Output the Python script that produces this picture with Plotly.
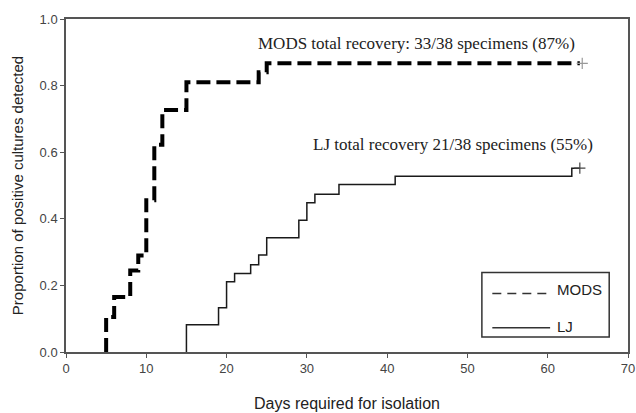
import plotly.graph_objects as go

# ---- data ----
mods_days = [5, 6, 8, 9, 10, 11, 12, 15, 24, 25]
mods_prop = [0.105, 0.165, 0.245, 0.29, 0.456, 0.622, 0.727, 0.81, 0.84, 0.867]
mods_end = 64

lj_days = [15, 19, 20, 21, 23, 24, 25, 29, 30, 31, 34, 41, 63]
lj_prop = [0.082, 0.133, 0.211, 0.236, 0.262, 0.291, 0.343, 0.396, 0.448, 0.474, 0.503, 0.528, 0.552]
lj_end = 64

x_ticks = [0, 10, 20, 30, 40, 50, 60, 70]
y_ticks = [0.0, 0.2, 0.4, 0.6, 0.8, 1.0]

mods_label = "MODS total recovery: 33/38 specimens (87%)"
lj_label = "LJ total recovery 21/38 specimens (55%)"


def km_xy(days, prop, end):
    x = [days[0]] + list(days) + [end]
    y = [0] + list(prop) + [prop[-1]]
    return x, y


fig = go.Figure()

mx, my = km_xy(mods_days, mods_prop, mods_end)
fig.add_trace(go.Scatter(x=mx, y=my, mode="lines", line_shape="hv",
                         line=dict(color="black", width=4, dash="14px,6px"),
                         showlegend=False, name="MODS", cliponaxis=False))
fig.add_trace(go.Scatter(x=[mods_end + 0.3], y=[mods_prop[-1]], mode="markers",
                         marker=dict(symbol="cross-thin", size=8,
                                     line=dict(color="#999999", width=1.2)),
                         showlegend=False, hoverinfo="skip"))

lx, ly = km_xy(lj_days, lj_prop, lj_end)
fig.add_trace(go.Scatter(x=lx, y=ly, mode="lines", line_shape="hv",
                         line=dict(color="#1a1a1a", width=1.5),
                         showlegend=False, name="LJ", cliponaxis=False))
fig.add_trace(go.Scatter(x=[lj_end], y=[lj_prop[-1]], mode="markers",
                         marker=dict(symbol="cross-thin", size=8,
                                     line=dict(color="#444444", width=1.2)),
                         showlegend=False, hoverinfo="skip"))

# legend drawn manually (box, samples, labels)
fig.add_shape(type="rect", xref="x", yref="y", x0=51.8, x1=67.66, y0=0.045, y1=0.239,
              line=dict(color="#333333", width=1.5), fillcolor="white", layer="above")
fig.add_shape(type="line", xref="x", yref="y", x0=53.1, x1=60.3, y0=0.176, y1=0.176,
              line=dict(color="#333333", width=1.5, dash="9px,6px"))
fig.add_shape(type="line", xref="x", yref="y", x0=53.1, x1=60.3, y0=0.073, y1=0.073,
              line=dict(color="#333333", width=1.5))
fig.add_annotation(x=60.9, y=0.187, xref="x", yref="y", text="MODS", showarrow=False,
                   xanchor="left", yanchor="middle",
                   font=dict(family="Liberation Sans, Arial", size=15, color="#222222"))
fig.add_annotation(x=60.9, y=0.078, xref="x", yref="y", text="LJ", showarrow=False,
                   xanchor="left", yanchor="middle",
                   font=dict(family="Liberation Sans, Arial", size=15, color="#222222"))

fig.add_annotation(x=43.66, y=0.927, xref="x", yref="y", text=mods_label, showarrow=False,
                   xanchor="center", yanchor="middle",
                   font=dict(family="Liberation Serif, Times New Roman", size=17, color="#222222"))
fig.add_annotation(x=48.2, y=0.622, xref="x", yref="y", text=lj_label, showarrow=False,
                   xanchor="center", yanchor="middle",
                   font=dict(family="Liberation Serif, Times New Roman", size=17, color="#222222"))

axis_common = dict(showgrid=False, zeroline=False, showline=True, linecolor="#555555",
                   linewidth=1.5, mirror=True, ticks="outside", ticklen=4, tickwidth=1.2,
                   tickcolor="#555555", automargin=False,
                   tickfont=dict(family="Liberation Sans, Arial", size=13, color="#444444"))

fig.update_xaxes(range=[0, 70], tickvals=x_ticks, ticktext=[str(v) for v in x_ticks],
                 title=dict(text="Days required for isolation", standoff=22,
                            font=dict(family="Liberation Sans, Arial", size=16, color="#222222")),
                 **axis_common)
fig.update_yaxes(range=[0, 1], tickvals=y_ticks, ticktext=[f"{v:.1f}" for v in y_ticks],
                 title=dict(text="Proportion of positive cultures detected", standoff=12,
                            font=dict(family="Liberation Sans, Arial", size=15, color="#222222")),
                 **axis_common)

fig.update_layout(width=636, height=413, margin=dict(l=66, r=8, t=19, b=61),
                  paper_bgcolor="white", plot_bgcolor="white", showlegend=False)

fig.write_html("out.html", config={"displayModeBar": False},
               post_script="document.body.style.margin='0px';document.body.style.overflow='hidden';")
